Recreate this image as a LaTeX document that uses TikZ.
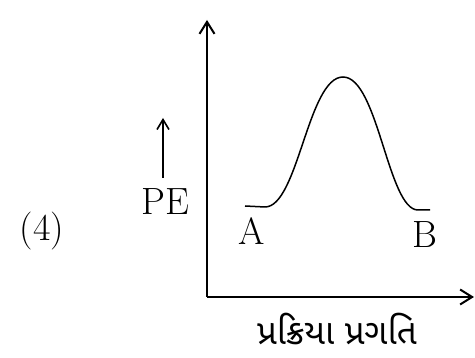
\documentclass[tikz,border=0pt]{standalone}
\usepackage{fontspec}
\newfontfamily\gujfont[Script=Gujarati]{Noto Sans Gujarati UI}
\usetikzlibrary{positioning, arrows.meta}

\begin{document}
\begin{tikzpicture}[
    x=1pt, y=1pt,
    lbl/.style={inner sep=0pt, font=\fontsize{38}{42}\selectfont},
    axis/.style={-{Straight Barb[length=12pt, width=15pt]}, line width=2pt},
    arr/.style={-{Straight Barb[length=10pt, width=12pt]}, line width=1.6pt},
    curve/.style={line width=1.5pt}
]
\useasboundingbox (0,0) rectangle (475,358);
% axes
\coordinate (origin) at (207,61);
\coordinate (ytip) at (207,338);
\coordinate (xtip) at (474,61);
\draw[axis] (origin) -- (ytip);
\draw[axis] (origin) -- (xtip);
% labels
\node[lbl] (num) at (42,127) {(4)};
\node[lbl] (pe) at (165,156) {PE};
\coordinate (petip) at (163,240);
\draw[arr] (163,180) -- (petip);
\node[lbl] (a) at (252,127) {A};
\node[lbl] (b) at (425,123) {B};
\node[inner sep=0pt, font=\gujfont\fontsize{35}{38}\selectfont] (xlab) at (337,29) {પ્રક્રિયા પ્રગતિ};
% energy profile
\coordinate (start) at (245,152);
\coordinate (peak) at (343,281);
\coordinate (stop) at (430,148);
\draw[curve] (start) -- (265,151) .. controls (298,151) and (308,281) .. (peak)
    .. controls (378,281) and (388,148) .. (418,148) -- (stop);
\end{tikzpicture}
\end{document}
